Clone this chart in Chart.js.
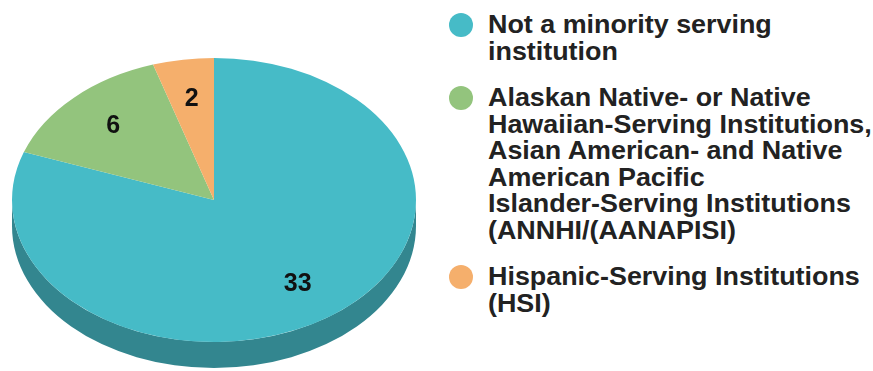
<!DOCTYPE html>
<html>
<head>
<meta charset="utf-8">
<script src="https://cdn.jsdelivr.net/npm/chart.js@4"></script>
<style>
  html, body { margin: 0; padding: 0; background: #fff; }
  #wrap { position: relative; width: 873px; height: 371px; overflow: hidden; }
  #pie { position: absolute; left: 0; top: 0; }
  #legend {
    position: absolute; left: 449px; top: 11px;
    font-family: "Liberation Sans", Arial, sans-serif;
    font-weight: bold; font-size: 25px; line-height: 26.5px; color: #222;
  }
  .item { position: relative; padding-left: 39px; margin-bottom: 20px; }
  .dot { position: absolute; left: 0; top: 2px; width: 24px; height: 24px; border-radius: 50%; }
  .txt { display: inline-block; transform: scaleX(1.075); transform-origin: left top; white-space: nowrap; }
</style>
</head>
<body>
<div id="wrap">
  <canvas id="pie" width="440" height="371"></canvas>
  <div id="legend"></div>
</div>
<script>
// data
const categories = [
  ["Not a minority serving", "institution"],
  ["Alaskan Native- or Native", "Hawaiian-Serving Institutions,", "Asian American- and Native", "American Pacific", "Islander-Serving Institutions", "(ANNHI/(AANAPISI)"],
  ["Hispanic-Serving Institutions", "(HSI)"]
];
const counts = [33, 6, 2];

// styling
const topColors = ["#46BBC7", "#93C47D", "#F5AF6C"];
const sideColors = ["#33868F", "#6A9459", "#C4864C"];
const SQUASH = 142 / 202;  // vertical tilt of the pie
const DEPTH = 26;          // thickness of the side

// keeps angle ranges on the front half (0..PI), handles wrap-around
function frontParts(a, b) {
  const parts = [];
  for (const shift of [-2 * Math.PI, 0, 2 * Math.PI]) {
    const s = Math.max(a, shift), e = Math.min(b, shift + Math.PI);
    if (e > s) parts.push([s - shift, e - shift]);
  }
  return parts;
}

const tiltPlugin = {
  id: "tilt",
  beforeDatasetsDraw(chart) {
    const ctx = chart.ctx;
    const arcs = chart.getDatasetMeta(0).data;
    ctx.save();
    arcs.forEach((arc, i) => {
      const { x, y, startAngle, endAngle, outerRadius } = arc;
      const ry = outerRadius * SQUASH;
      frontParts(startAngle, endAngle).forEach(([s, e]) => {
        ctx.beginPath();
        ctx.ellipse(x, y, outerRadius, ry, 0, s, e);
        ctx.ellipse(x, y + DEPTH, outerRadius, ry, 0, e, s, true);
        ctx.closePath();
        ctx.fillStyle = sideColors[i];
        ctx.fill();
      });
    });
    const a0 = arcs[0];
    ctx.translate(a0.x, a0.y);
    ctx.scale(1, SQUASH);
    ctx.translate(-a0.x, -a0.y);
  },
  afterDatasetsDraw(chart) {
    const ctx = chart.ctx;
    ctx.restore();
    // value labels
    const arcs = chart.getDatasetMeta(0).data;
    ctx.save();
    ctx.font = "bold 25px 'Liberation Sans', Arial, sans-serif";
    ctx.fillStyle = "#111";
    ctx.textAlign = "center";
    ctx.textBaseline = "middle";
    arcs.forEach((arc, i) => {
      const mid = (arc.startAngle + arc.endAngle) / 2;
      const r = arc.outerRadius * 0.72;
      ctx.fillText(String(counts[i]), arc.x + Math.cos(mid) * r, arc.y + Math.sin(mid) * r * SQUASH);
    });
    ctx.restore();
  }
};

new Chart(document.getElementById("pie"), {
  type: "pie",
  data: {
    labels: categories,
    datasets: [{
      data: counts,
      backgroundColor: topColors,
      borderWidth: 0,
      radius: 202,
      clip: false
    }]
  },
  options: {
    responsive: false,
    animation: false,
    layout: { padding: { left: 0, right: 12, top: 29, bottom: 0 } },
    plugins: {
      legend: { display: false },
      tooltip: { enabled: false }
    }
  },
  plugins: [tiltPlugin]
});

// legend
const legendEl = document.getElementById("legend");
categories.forEach((lines, i) => {
  const item = document.createElement("div");
  item.className = "item";
  const dot = document.createElement("span");
  dot.className = "dot";
  dot.style.background = topColors[i];
  const txt = document.createElement("span");
  txt.className = "txt";
  txt.innerHTML = lines.join("<br>");
  item.appendChild(dot);
  item.appendChild(txt);
  legendEl.appendChild(item);
});
</script>
</body>
</html>
